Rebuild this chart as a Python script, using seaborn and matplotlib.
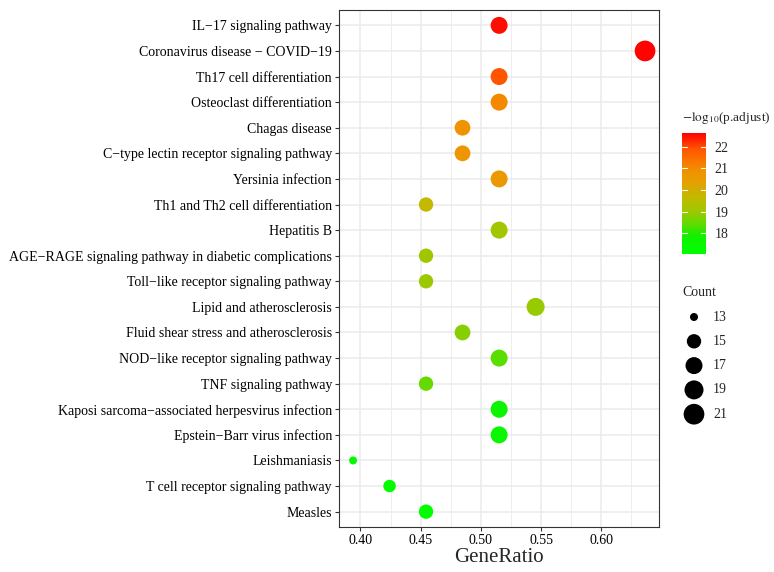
import numpy as np
import pandas as pd
import matplotlib
matplotlib.use("Agg")
import matplotlib.pyplot as plt
import seaborn as sns
from matplotlib.colors import LinearSegmentedColormap, Normalize
from matplotlib.cm import ScalarMappable

# enrichment results, listed top to bottom as in the chart
pathways = [
    "IL\u221217 signaling pathway",
    "Coronavirus disease \u2212 COVID\u221219",
    "Th17 cell differentiation",
    "Osteoclast differentiation",
    "Chagas disease",
    "C\u2212type lectin receptor signaling pathway",
    "Yersinia infection",
    "Th1 and Th2 cell differentiation",
    "Hepatitis B",
    "AGE\u2212RAGE signaling pathway in diabetic complications",
    "Toll\u2212like receptor signaling pathway",
    "Lipid and atherosclerosis",
    "Fluid shear stress and atherosclerosis",
    "NOD\u2212like receptor signaling pathway",
    "TNF signaling pathway",
    "Kaposi sarcoma\u2212associated herpesvirus infection",
    "Epstein\u2212Barr virus infection",
    "Leishmaniasis",
    "T cell receptor signaling pathway",
    "Measles",
]
gene_ratio = [0.5152, 0.6364, 0.5152, 0.5152, 0.4848, 0.4848, 0.5152, 0.4545,
              0.5152, 0.4545, 0.4545, 0.5455, 0.4848, 0.5152, 0.4545, 0.5152,
              0.5152, 0.3939, 0.4242, 0.4545]
counts = [17, 21, 17, 17, 16, 16, 17, 15, 17, 15, 15, 18, 16, 17, 15, 17, 17, 13, 14, 15]
neg_log_padj = [22.5, 22.6, 21.9, 21.0, 20.8, 20.75, 20.6, 19.7, 19.1, 19.05,
                19.0, 18.95, 18.8, 18.4, 18.5, 17.7, 17.5, 17.4, 17.3, 17.1]
x_ticks = [0.40, 0.45, 0.50, 0.55, 0.60]
color_ticks = [18, 19, 20, 21, 22]
size_breaks = [13, 15, 17, 19, 21]

# green -> red gradient, stops picked to match the reference colours
vmin, vmax = 17.05, 22.63
grad_stops = [
    (17.05, "#00FF00"), (17.9, "#12F000"), (18.4, "#5CDC00"), (19.0, "#9CC800"),
    (19.7, "#C4B800"), (20.3, "#E2A200"), (20.8, "#F09400"), (21.2, "#F77F00"),
    (21.9, "#FF5500"), (22.63, "#FF0000"),
]
cmap = LinearSegmentedColormap.from_list(
    "green_red", [((v - vmin) / (vmax - vmin), c) for v, c in grad_stops])
norm = Normalize(vmin=vmin, vmax=vmax)


def dot_area(count):
    # diameter in px -> marker area in pt^2
    d = 8 + 4.49 * np.sqrt(count - 13)
    return (0.72 * d) ** 2


df = pd.DataFrame({
    "Description": pathways,
    "GeneRatio": gene_ratio,
    "Count": counts,
    "padj": neg_log_padj,
})
df["pos"] = np.arange(len(df))[::-1]

sns.set_style("white")
plt.rcParams["font.family"] = ["Liberation Serif", "DejaVu Serif"]
plt.rcParams["mathtext.fontset"] = "stix"

fig = plt.figure(figsize=(7.74, 5.72), dpi=100)
ax = fig.add_axes([339 / 774, 1 - 527 / 572, 320 / 774, 517 / 572])

sns.scatterplot(data=df, x="GeneRatio", y="pos", hue="padj", palette=cmap, hue_norm=norm,
                size="Count", sizes={c: dot_area(c) for c in sorted(set(counts))},
                legend=False, edgecolor="none", linewidth=0, ax=ax, zorder=3)

ax.set_xticks(x_ticks)
ax.set_xticklabels([f"{v:.2f}" for v in x_ticks])
ax.set_xticks([0.425, 0.475, 0.525, 0.575, 0.625], minor=True)
ax.set_yticks(df["pos"])
ax.set_yticklabels(df["Description"])
ax.set_xlim(0.3822, 0.6480)
ax.set_ylim(-0.6, len(df) - 0.4)
ax.grid(True, which="major", color="#EBEBEB", linewidth=1.1, zorder=0)
ax.grid(True, which="minor", axis="x", color="#EBEBEB", linewidth=0.6, zorder=0)
ax.set_axisbelow(True)
ax.tick_params(which="major", length=3, width=0.8, color="#333333", pad=2,
               labelsize=10, labelcolor="black", left=True, bottom=True)
ax.tick_params(which="minor", length=0)
for s in ax.spines.values():
    s.set_color("#333333")
    s.set_linewidth(0.8)
ax.set_xlabel("GeneRatio", fontsize=15, labelpad=1)
ax.set_ylabel("")

# colour bar legend
cax = fig.add_axes([682 / 774, 1 - 254 / 572, 24 / 774, 121 / 572])
cb = fig.colorbar(ScalarMappable(norm=norm, cmap=cmap), cax=cax, ticks=color_ticks)
cb.outline.set_visible(False)
cax.tick_params(length=0, labelsize=10, pad=6)
for t in color_ticks:
    cax.plot([0, 0.22], [t, t], color="white", lw=0.8, transform=cax.get_yaxis_transform())
    cax.plot([0.78, 1], [t, t], color="white", lw=0.8, transform=cax.get_yaxis_transform())
fig.text(682 / 774, 1 - 118 / 572, r"$-\mathrm{log}_{10}$(p.adjust)", fontsize=9.6, va="center")

# size legend
lax = fig.add_axes([670 / 774, 1 - 430 / 572, 104 / 774, 150 / 572])
lax.set_xlim(670, 774)
lax.set_ylim(430, 280)
lax.axis("off")
fig.text(682 / 774, 1 - 292 / 572, "Count", fontsize=10, va="center")
for i, c in enumerate(size_breaks):
    yy = 317 + i * 24.3
    lax.scatter([694], [yy], s=dot_area(c), color="black", edgecolor="none")
    lax.text(713, yy, str(c), fontsize=10, va="center")

fig.savefig("out.png", dpi=100)
